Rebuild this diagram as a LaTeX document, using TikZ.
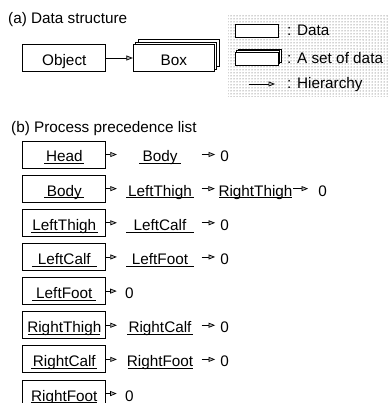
\documentclass[tikz,border=0pt]{standalone}
\usepackage{fontspec}
\setmainfont{Liberation Sans}
\usetikzlibrary{arrows.meta,shadows,patterns}
\newcommand\myul[2]{\rlap{\rule[-2pt]{#1}{0.7pt}}\makebox[#1]{#2}}
\begin{document}
\begin{tikzpicture}[x=1pt,y=-1pt,
  font=\fontsize{15.3}{18}\selectfont,
  txt/.style={inner sep=0pt, text height=15pt, text depth=0pt},
  box/.style={txt, draw=black, line width=0.9pt, fill=white, minimum width=83pt, minimum height=27pt},
  stack/.style={general shadow={shadow xshift=#1*2, shadow yshift=#1*2, draw=black, fill=white, line width=0.8pt},
                general shadow={shadow xshift=#1, shadow yshift=#1, draw=black, fill=white, line width=0.8pt}},
  lgbox/.style={draw=black, line width=0.9pt, fill=white, inner sep=0pt, minimum width=43pt, minimum height=13pt},
  arr/.style={line width=0.7pt, -{Triangle[length=6.5pt,width=5pt,fill=gray!55,line width=0.7pt]}},
  col2/.style={txt, minimum width=68pt},
  lbl/.style={inner sep=0pt, anchor=base west},
]
\useasboundingbox (0,0) rectangle (389,403);

% legend
\fill[pattern=dots, pattern color=black!75] (228,14) rectangle (389,97);
\node[lgbox] (ld) at (256.5,30.5) {};
\node[lbl] (ldt) at (287,36) {: Data};
\node[lgbox, stack=1.5pt] (ls) at (256.5,58.5) {};
\node[lbl] (lst) at (287,64) {: A set of data};
\coordinate (ha) at (249,84);
\coordinate (hb) at (275,84);
\draw[arr] (ha) -- (hb);
\node[lbl] (lht) at (287,89) {: Hierarchy};

% (a)
\node[lbl] (ta) at (8,24) {(a) Data structure};
\node[box] (obj) at (64.3,58) {Object};
\node[box, minimum width=81pt, stack=2.5pt] (bx) at (173.8,58) {Box};
\draw[arr] (obj) -- (bx);

% (b)
\node[lbl] (tb) at (11,132.5) {(b) Process precedence list};

% row 0
\node[box] (r0a) at (64.3,154.5) {\myul{40pt}{Head}};
\node[col2] (r0b) at (160,154.5) {\myul{42pt}{Body}};
\node[txt] (r0c) at (224.5,154.5) {0};
\draw[arr, shorten >=9pt] (r0a) -- (r0b);
\draw[arr, shorten <=7.5pt, shorten >=5pt] (r0b) -- (r0c);

% row 1
\node[box] (r1a) at (64.3,188.65) {\myul{40pt}{Body}};
\node[col2] (r1b) at (160,188.65) {\myul{68pt}{LeftThigh}};
\node[txt] (r1c) at (255.5,188.65) {\myul{72.4pt}{RightThigh}};
\node[txt] (r1d) at (322.5,188.65) {0};
\draw[arr, shorten >=9pt] (r1a) -- (r1b);
\draw[arr, shorten <=7.5pt, shorten >=4.3pt] (r1b) -- (r1c);
\draw[arr, shorten <=1.5pt, shorten >=10pt] (r1c) -- (r1d);

% row 2
\node[box] (r2a) at (64.3,222.8) {\myul{67pt}{LeftThigh}};
\node[col2] (r2b) at (160,222.8) {\myul{68pt}{LeftCalf}};
\node[txt] (r2c) at (224.5,222.8) {0};
\draw[arr, shorten >=9pt] (r2a) -- (r2b);
\draw[arr, shorten <=7.5pt, shorten >=5pt] (r2b) -- (r2c);

% row 3
\node[box] (r3a) at (64.3,256.95) {\myul{65pt}{LeftCalf}};
\node[col2] (r3b) at (160,256.95) {\myul{68pt}{LeftFoot}};
\node[txt] (r3c) at (224.5,256.95) {0};
\draw[arr, shorten >=9pt] (r3a) -- (r3b);
\draw[arr, shorten <=7.5pt, shorten >=5pt] (r3b) -- (r3c);

% row 4
\node[box] (r4a) at (64.3,291.1) {\myul{64pt}{LeftFoot}};
\node[txt] (r4b) at (129.5,291.1) {0};
\draw[arr, shorten >=8.3pt] (r4a) -- (r4b);

% row 5
\node[box] (r5a) at (64.3,325.25) {\myul{72pt}{RightThigh}};
\node[col2] (r5b) at (160,325.25) {\myul{66pt}{RightCalf}};
\node[txt] (r5c) at (224.5,325.25) {0};
\draw[arr, shorten >=9pt] (r5a) -- (r5b);
\draw[arr, shorten <=7.5pt, shorten >=5pt] (r5b) -- (r5c);

% row 6
\node[box] (r6a) at (64.3,359.4) {\myul{66pt}{RightCalf}};
\node[col2] (r6b) at (160,359.4) {\myul{65pt}{RightFoot}};
\node[txt] (r6c) at (224.5,359.4) {0};
\draw[arr, shorten >=9pt] (r6a) -- (r6b);
\draw[arr, shorten <=7.5pt, shorten >=5pt] (r6b) -- (r6c);

% row 7
\node[box] (r7a) at (64.3,393.55) {\myul{66pt}{RightFoot}};
\node[txt] (r7b) at (129.5,393.55) {0};
\draw[arr, shorten >=8.3pt] (r7a) -- (r7b);
\end{tikzpicture}
\end{document}
